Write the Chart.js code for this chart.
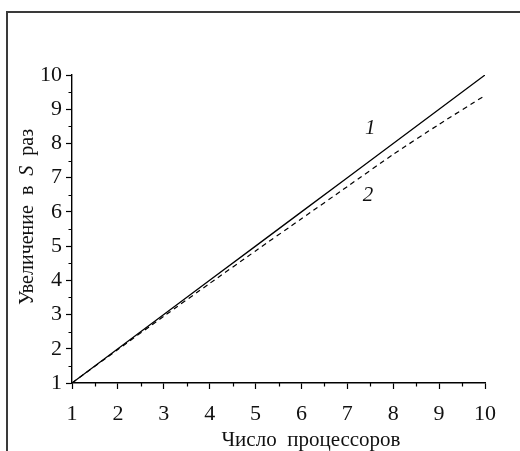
<!DOCTYPE html>
<html>
<head>
<meta charset="utf-8">
<script src="https://cdn.jsdelivr.net/npm/chart.js@4/dist/chart.umd.min.js"></script>
<style>
html,body{margin:0;padding:0;background:#fff;}
#c{display:block;}
</style>
</head>
<body>
<canvas id="c" width="520" height="451"></canvas>
<script>
// ---- data ----
const processors = [1, 2, 3, 4, 5, 6, 7, 8, 9, 10];
const idealSpeedup = [1, 2, 3, 4, 5, 6, 7, 8, 9, 10];
const realSpeedup = [1, 1.98, 2.95, 3.91, 4.86, 5.80, 6.74, 7.68, 8.56, 9.40];
const xTicks = [1, 2, 3, 4, 5, 6, 7, 8, 9, 10];
const yTicks = [1, 2, 3, 4, 5, 6, 7, 8, 9, 10];
const curveLabels = ['1', '2'];
const curveLabelX = [7.5, 7.45];
const curveLabelY = [8.45, 6.47];
const xTitle = 'Число  процессоров';
const yTitleParts = [['Увеличение  в  ', false], ['S', true], ['  раз', false]];

const FONT = '"Liberation Serif", "Times New Roman", serif';

const toPts = (xs, ys) => xs.map((x, i) => ({x: x, y: ys[i]}));

const extras = {
  id: 'extras',
  afterDraw(chart) {
    const ctx = chart.ctx;
    const xs = chart.scales.x, ys = chart.scales.y;
    ctx.save();
    // frame (top + left)
    ctx.strokeStyle = '#3a3a3a';
    ctx.lineWidth = 2;
    ctx.beginPath();
    ctx.moveTo(520, 12);
    ctx.lineTo(7, 12);
    ctx.lineTo(7, 451);
    ctx.stroke();

    // minor ticks
    ctx.strokeStyle = '#000';
    ctx.lineWidth = 1.2;
    ctx.beginPath();
    for (let i = 0; i < xTicks.length - 1; i++) {
      const v = (xTicks[i] + xTicks[i + 1]) / 2;
      const px = Math.round(xs.getPixelForValue(v)) + 0.5;
      ctx.moveTo(px, xs.top);
      ctx.lineTo(px, xs.top + 3.5);
    }
    for (let i = 0; i < yTicks.length - 1; i++) {
      const v = (yTicks[i] + yTicks[i + 1]) / 2;
      const py = Math.round(ys.getPixelForValue(v)) + 0.5;
      ctx.moveTo(ys.right, py);
      ctx.lineTo(ys.right - 3.5, py);
    }
    ctx.stroke();

    // axis titles
    ctx.fillStyle = '#111';
    ctx.font = '21px ' + FONT;
    ctx.textAlign = 'center';
    ctx.textBaseline = 'middle';
    ctx.fillText(xTitle, 311, 440);

    // y title with italic S
    ctx.translate(28, 217);
    ctx.rotate(-Math.PI / 2);
    let total = 0;
    const widths = yTitleParts.map(p => {
      ctx.font = (p[1] ? 'italic ' : '') + '20px ' + FONT;
      const w = ctx.measureText(p[0]).width;
      total += w;
      return w;
    });
    let cx = -total / 2;
    ctx.textAlign = 'left';
    yTitleParts.forEach((p, i) => {
      ctx.font = (p[1] ? 'italic ' : '') + '20px ' + FONT;
      ctx.fillText(p[0], cx, 0);
      cx += widths[i];
    });
    ctx.restore();

    // curve labels
    ctx.save();
    ctx.fillStyle = '#111';
    ctx.font = 'italic 21px ' + FONT;
    ctx.textAlign = 'center';
    ctx.textBaseline = 'middle';
    curveLabels.forEach((t, i) => {
      ctx.fillText(t, xs.getPixelForValue(curveLabelX[i]), ys.getPixelForValue(curveLabelY[i]));
    });
    ctx.restore();
  }
};

new Chart(document.getElementById('c'), {
  type: 'line',
  data: {
    datasets: [
      {
        data: toPts(processors, idealSpeedup),
        borderColor: '#000',
        borderWidth: 1.3,
        pointRadius: 0,
        tension: 0,
        fill: false
      },
      {
        data: toPts(processors, realSpeedup),
        borderColor: '#000',
        borderWidth: 1.2,
        borderDash: [5, 4],
        pointRadius: 0,
        tension: 0.2,
        fill: false
      }
    ]
  },
  options: {
    responsive: false,
    animation: false,
    events: [],
    layout: {padding: {left: 0, top: 75, right: 35, bottom: 0}},
    plugins: {legend: {display: false}, tooltip: {enabled: false}},
    scales: {
      x: {
        type: 'linear',
        min: 1, max: 10,
        afterFit: s => { s.height = 68; },
        afterBuildTicks: s => { s.ticks = xTicks.map(v => ({value: v})); },
        ticks: {color: '#111', font: {family: FONT, size: 22}, padding: 12, maxRotation: 0, autoSkip: false},
        grid: {display: true, drawOnChartArea: false, drawTicks: true, tickLength: 6, tickColor: '#000', tickWidth: 1.2},
        border: {display: true, color: '#000', width: 1.4}
      },
      y: {
        type: 'linear',
        min: 1, max: 10,
        afterFit: s => { s.width = 72; },
        afterBuildTicks: s => { s.ticks = yTicks.map(v => ({value: v})); },
        ticks: {color: '#111', font: {family: FONT, size: 22}, padding: 4, autoSkip: false},
        grid: {display: true, drawOnChartArea: false, drawTicks: true, tickLength: 6, tickColor: '#000', tickWidth: 1.2},
        border: {display: true, color: '#000', width: 1.4}
      }
    }
  },
  plugins: [extras]
});
</script>
</body>
</html>
